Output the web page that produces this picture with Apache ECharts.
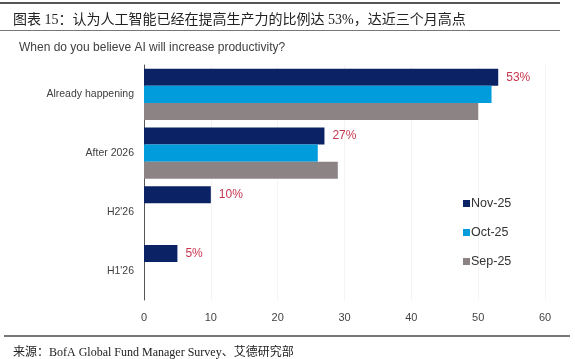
<!DOCTYPE html>
<html><head><meta charset="utf-8">
<script src="https://cdn.jsdelivr.net/npm/echarts@6/dist/echarts.min.js"></script>
<style>html,body{margin:0;padding:0;background:#fff}#c{width:575px;height:359px}</style>
</head><body><div id="c"></div>
<script>
const categories = ["Already happening", "After 2026", "H2'26", "H1'26"];
const nov25 = [53, 27, 10, 5];
const oct25 = [52, 26, null, null];
const sep25 = [50, 29, null, null];
const seriesNames = ["Nov-25", "Oct-25", "Sep-25"];
const xTicks = [0, 10, 20, 30, 40, 50, 60];

const narrow = "'Liberation Sans', Arial, sans-serif";
const chart = echarts.init(document.getElementById('c'));
const colors = ['#0b2265', '#009cdc', '#8c8384'];
chart.setOption({
  animation: false,
  title: [
    {text: '图表 15：认为人工智能已经在提高生产力的比例达 53%，达近三个月高点', left: 8, top: 8,
     textStyle: {fontFamily: "'Liberation Serif', 'Noto Sans CJK SC', serif", fontSize: 14, fontWeight: 'normal', color: '#222'}},
    {text: 'When do you believe AI will increase productivity?', left: 14, top: 37,
     textStyle: {fontFamily: narrow, fontSize: 12, fontWeight: 'normal', color: '#404040'}},
    {text: '来源：BofA Global Fund Manager Survey、艾德研究部', left: 8, top: 342,
     textStyle: {fontFamily: "'Liberation Serif', 'Noto Sans CJK SC', serif", fontSize: 12, fontWeight: 'normal', color: '#222'}}
  ],
  graphic: [
    {type: 'rect', shape: {x: 0, y: 2, width: 560, height: 2}, style: {fill: '#555'}},
    {type: 'rect', shape: {x: 0, y: 30, width: 560, height: 1}, style: {fill: '#777'}},
    {type: 'rect', shape: {x: 4, y: 335, width: 566, height: 2}, style: {fill: '#777'}}
  ],
  legend: {
    orient: 'vertical', left: 458, top: 192, itemWidth: 7, itemHeight: 7, itemGap: 16,
    icon: 'rect', data: seriesNames,
    textStyle: {fontFamily: narrow, fontSize: 12.5, color: '#333', padding: [0, 0, 0, -4]}
  },
  grid: {left: 144, right: 30, top: 65, bottom: 59},
  xAxis: {
    type: 'value', min: 0, max: 60, interval: 10,
    axisLine: {show: false}, axisTick: {show: false},
    splitLine: {show: true, lineStyle: {color: '#f4f4f4'}},
    axisLabel: {margin: 12, fontFamily: narrow, fontSize: 11, color: '#444',
      formatter: v => xTicks.includes(v) ? String(v) : ''}
  },
  yAxis: {
    type: 'category', data: categories, inverse: true,
    axisLine: {show: true, lineStyle: {color: '#555', width: 1}}, axisTick: {show: false},
    axisLabel: {margin: 10, fontFamily: narrow, fontSize: 10.5, color: '#404040'}
  },
  series: [
    {name: seriesNames[0], type: 'bar', data: nov25, barGap: '0%', barCategoryGap: '13%',
     itemStyle: {color: colors[0]},
     label: {show: true, position: 'right', distance: 8, formatter: '{c}%', color: '#c8364f', fontFamily: narrow, fontSize: 12}},
    {name: seriesNames[1], type: 'bar', data: oct25, barGap: '0%', barCategoryGap: '13%', itemStyle: {color: colors[1]}},
    {name: seriesNames[2], type: 'bar', data: sep25, barGap: '0%', barCategoryGap: '13%', itemStyle: {color: colors[2]}}
  ]
});
</script></body></html>
